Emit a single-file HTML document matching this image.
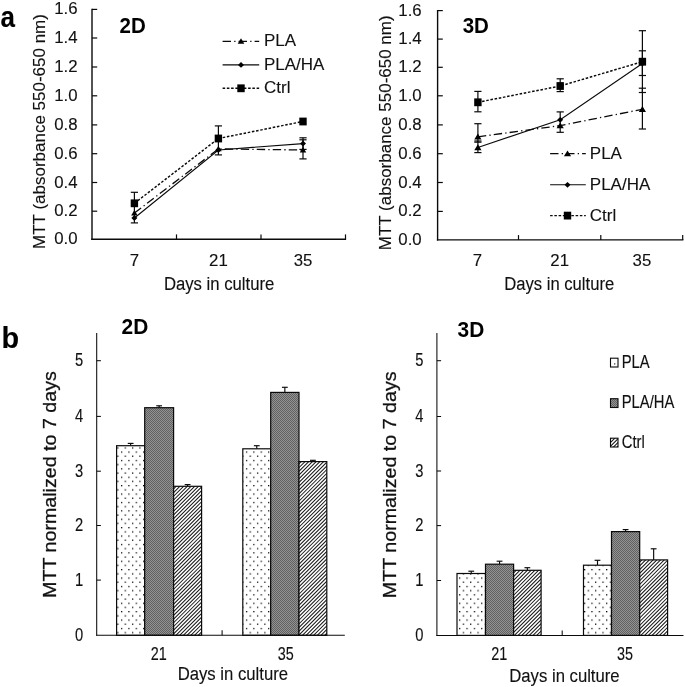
<!DOCTYPE html>
<html lang="en">
<head>
<meta charset="utf-8">
<title>MTT assay figure</title>
<style>
html,body{margin:0;padding:0;background:#fff;}
body{width:685px;height:687px;overflow:hidden;}
svg{display:block;}
</style>
</head>
<body>
<svg width="685" height="687" viewBox="0 0 685 687" font-family='"Liberation Sans", Arial, sans-serif'>
<defs>
<pattern id="dots" x="120.95" y="501.85" width="7.35" height="8.4" patternUnits="userSpaceOnUse">
<rect width="7.35" height="8.4" fill="#fff"/>
<rect x="0" y="0" width="1.25" height="1.25" fill="#000"/>
<rect x="3.68" y="4.2" width="1.25" height="1.25" fill="#000"/>
</pattern>
<pattern id="dense" width="2" height="2" patternUnits="userSpaceOnUse">
<rect width="2" height="2" fill="#939393"/>
<rect x="0" y="0" width="1" height="1" fill="#616161"/>
<rect x="1" y="1" width="1" height="1" fill="#616161"/>
</pattern>
<pattern id="diag" x="0.3" y="0" width="11" height="11" patternUnits="userSpaceOnUse">
<rect width="11" height="11" fill="#fff"/>
<path d="M-1 1.000 L1.000 -1 M-1 4.667 L4.667 -1 M-1 8.333 L8.333 -1 M-1 12.000 L12.000 -1 M-1 15.667 L15.667 -1 M-1 19.333 L19.333 -1 M-1 23.000 L23.000 -1" stroke="#000" stroke-width="1.0" fill="none"/>
</pattern>
</defs>
<rect width="685" height="687" fill="#fff"/>
<text transform="translate(0.60,26.55) scale(1.0,1.1)" font-size="26" text-anchor="start" font-weight="bold" fill="#000" stroke="#000" stroke-width="0.1">a</text>
<text transform="translate(1.50,348.30) scale(1.0,1.04)" font-size="28.8" text-anchor="start" font-weight="bold" fill="#000" stroke="#000" stroke-width="0.1">b</text>
<line x1="92.00" y1="8.80" x2="92.00" y2="239.90" stroke="#0a0a0a" stroke-width="1.4" />
<line x1="91.30" y1="239.20" x2="346.10" y2="239.20" stroke="#0a0a0a" stroke-width="1.4" />
<text transform="translate(77.60,244.20) scale(1.0,1.03)" font-size="16.8" text-anchor="end" font-weight="normal" fill="#111" stroke="#111" stroke-width="0.12">0.0</text>
<line x1="92.00" y1="211.20" x2="97.20" y2="211.20" stroke="#0a0a0a" stroke-width="1.2" />
<text transform="translate(77.60,216.20) scale(1.0,1.03)" font-size="16.8" text-anchor="end" font-weight="normal" fill="#111" stroke="#111" stroke-width="0.12">0.2</text>
<line x1="92.00" y1="182.50" x2="97.20" y2="182.50" stroke="#0a0a0a" stroke-width="1.2" />
<text transform="translate(77.60,187.50) scale(1.0,1.03)" font-size="16.8" text-anchor="end" font-weight="normal" fill="#111" stroke="#111" stroke-width="0.12">0.4</text>
<line x1="92.00" y1="153.70" x2="97.20" y2="153.70" stroke="#0a0a0a" stroke-width="1.2" />
<text transform="translate(77.60,158.70) scale(1.0,1.03)" font-size="16.8" text-anchor="end" font-weight="normal" fill="#111" stroke="#111" stroke-width="0.12">0.6</text>
<line x1="92.00" y1="124.90" x2="97.20" y2="124.90" stroke="#0a0a0a" stroke-width="1.2" />
<text transform="translate(77.60,129.90) scale(1.0,1.03)" font-size="16.8" text-anchor="end" font-weight="normal" fill="#111" stroke="#111" stroke-width="0.12">0.8</text>
<line x1="92.00" y1="95.80" x2="97.20" y2="95.80" stroke="#0a0a0a" stroke-width="1.2" />
<text transform="translate(77.60,100.80) scale(1.0,1.03)" font-size="16.8" text-anchor="end" font-weight="normal" fill="#111" stroke="#111" stroke-width="0.12">1.0</text>
<line x1="92.00" y1="67.00" x2="97.20" y2="67.00" stroke="#0a0a0a" stroke-width="1.2" />
<text transform="translate(77.60,72.00) scale(1.0,1.03)" font-size="16.8" text-anchor="end" font-weight="normal" fill="#111" stroke="#111" stroke-width="0.12">1.2</text>
<line x1="92.00" y1="38.00" x2="97.20" y2="38.00" stroke="#0a0a0a" stroke-width="1.2" />
<text transform="translate(77.60,43.00) scale(1.0,1.03)" font-size="16.8" text-anchor="end" font-weight="normal" fill="#111" stroke="#111" stroke-width="0.12">1.4</text>
<line x1="92.00" y1="9.40" x2="97.20" y2="9.40" stroke="#0a0a0a" stroke-width="1.2" />
<text transform="translate(77.60,14.40) scale(1.0,1.03)" font-size="16.8" text-anchor="end" font-weight="normal" fill="#111" stroke="#111" stroke-width="0.12">1.6</text>
<line x1="176.50" y1="239.20" x2="176.50" y2="234.40" stroke="#0a0a0a" stroke-width="1.2" />
<line x1="261.00" y1="239.20" x2="261.00" y2="234.40" stroke="#0a0a0a" stroke-width="1.2" />
<line x1="345.50" y1="239.20" x2="345.50" y2="234.40" stroke="#0a0a0a" stroke-width="1.2" />
<text transform="translate(134.40,265.50) scale(1.0,1.03)" font-size="16.8" text-anchor="middle" font-weight="normal" fill="#111" stroke="#111" stroke-width="0.12">7</text>
<text transform="translate(218.40,265.50) scale(1.0,1.03)" font-size="16.8" text-anchor="middle" font-weight="normal" fill="#111" stroke="#111" stroke-width="0.12">21</text>
<text transform="translate(303.00,265.50) scale(1.0,1.03)" font-size="16.8" text-anchor="middle" font-weight="normal" fill="#111" stroke="#111" stroke-width="0.12">35</text>
<text transform="translate(163.90,289.70) scale(1.013,1.095)" font-size="16.5" text-anchor="start" font-weight="normal" fill="#111" stroke="#111" stroke-width="0.12">Days in culture</text>
<text transform="translate(45.00,131.50) rotate(-90) scale(1.0,0.99)" font-size="17" text-anchor="middle" fill="#111" stroke="#111" stroke-width="0.12">MTT (absorbance 550-650 nm)</text>
<text transform="translate(119.50,32.60) scale(1.0,1.08)" font-size="20.5" text-anchor="start" font-weight="bold" fill="#000" stroke="#000" stroke-width="0">2D</text>
<line x1="134.40" y1="192.30" x2="134.40" y2="222.90" stroke="#0a0a0a" stroke-width="1.2" />
<line x1="130.80" y1="192.30" x2="138.00" y2="192.30" stroke="#0a0a0a" stroke-width="1.2" />
<line x1="130.80" y1="222.90" x2="138.00" y2="222.90" stroke="#0a0a0a" stroke-width="1.2" />
<line x1="218.40" y1="125.90" x2="218.40" y2="154.90" stroke="#0a0a0a" stroke-width="1.2" />
<line x1="214.80" y1="125.90" x2="222.00" y2="125.90" stroke="#0a0a0a" stroke-width="1.2" />
<line x1="214.80" y1="154.90" x2="222.00" y2="154.90" stroke="#0a0a0a" stroke-width="1.2" />
<line x1="303.00" y1="137.80" x2="303.00" y2="149.40" stroke="#0a0a0a" stroke-width="1.2" />
<line x1="299.40" y1="137.80" x2="306.60" y2="137.80" stroke="#0a0a0a" stroke-width="1.2" />
<line x1="299.40" y1="149.40" x2="306.60" y2="149.40" stroke="#0a0a0a" stroke-width="1.2" />
<line x1="303.00" y1="139.80" x2="303.00" y2="158.90" stroke="#0a0a0a" stroke-width="1.2" />
<line x1="299.40" y1="139.80" x2="306.60" y2="139.80" stroke="#0a0a0a" stroke-width="1.2" />
<line x1="299.40" y1="158.90" x2="306.60" y2="158.90" stroke="#0a0a0a" stroke-width="1.2" />
<polyline points="134.40,213.00 218.40,148.90 303.00,150.00" fill="none" stroke="#0a0a0a" stroke-width="1.3" stroke-dasharray="8.4 3.2 1.3 3.1"/>
<polyline points="134.40,218.00 218.40,150.00 303.00,143.60" fill="none" stroke="#0a0a0a" stroke-width="1.1" />
<polyline points="134.40,203.30 218.40,138.50 303.00,121.50" fill="none" stroke="#0a0a0a" stroke-width="1.45" stroke-dasharray="2.55 1.7"/>
<path d="M134.40 210.12 L137.64 215.43 L131.16 215.43 Z" fill="#000"/>
<path d="M218.40 146.02 L221.64 151.33 L215.16 151.33 Z" fill="#000"/>
<path d="M303.00 147.12 L306.24 152.43 L299.76 152.43 Z" fill="#000"/>
<path d="M134.40 215.10 L137.40 218.00 L134.40 220.90 L131.40 218.00 Z" fill="#000"/>
<path d="M218.40 147.10 L221.40 150.00 L218.40 152.90 L215.40 150.00 Z" fill="#000"/>
<path d="M303.00 140.70 L306.00 143.60 L303.00 146.50 L300.00 143.60 Z" fill="#000"/>
<rect x="130.70" y="199.40" width="7.4" height="7.8" fill="#000"/>
<rect x="214.70" y="134.60" width="7.4" height="7.8" fill="#000"/>
<rect x="299.30" y="117.60" width="7.4" height="7.8" fill="#000"/>
<line x1="222.60" y1="41.30" x2="259.20" y2="41.30" stroke="#0a0a0a" stroke-width="1.3" stroke-dasharray="8.4 3.2 1.3 3.1"/>
<path d="M241.00 38.36 L244.31 43.78 L237.69 43.78 Z" fill="#000"/>
<text transform="translate(264.00,46.00) scale(1.0,1.01)" font-size="17" text-anchor="start" font-weight="normal" fill="#111" stroke="#111" stroke-width="0.12">PLA</text>
<line x1="222.60" y1="64.90" x2="259.20" y2="64.90" stroke="#0a0a0a" stroke-width="1.1" />
<path d="M241.00 62.00 L244.00 64.90 L241.00 67.80 L238.00 64.90 Z" fill="#000"/>
<text transform="translate(264.00,69.90) scale(1.0,1.01)" font-size="17" text-anchor="start" font-weight="normal" fill="#111" stroke="#111" stroke-width="0.12">PLA/HA</text>
<line x1="222.60" y1="88.30" x2="259.20" y2="88.30" stroke="#0a0a0a" stroke-width="1.45" stroke-dasharray="2.55 1.7"/>
<rect x="237.30" y="84.40" width="7.4" height="7.8" fill="#000"/>
<text transform="translate(264.00,93.30) scale(1.0,1.01)" font-size="17" text-anchor="start" font-weight="normal" fill="#111" stroke="#111" stroke-width="0.12">Ctrl</text>
<line x1="437.60" y1="10.00" x2="437.60" y2="240.60" stroke="#0a0a0a" stroke-width="1.4" />
<line x1="436.90" y1="239.90" x2="683.40" y2="239.90" stroke="#0a0a0a" stroke-width="1.4" />
<text transform="translate(421.70,244.90) scale(1.0,1.03)" font-size="16.8" text-anchor="end" font-weight="normal" fill="#111" stroke="#111" stroke-width="0.12">0.0</text>
<line x1="437.60" y1="211.40" x2="442.80" y2="211.40" stroke="#0a0a0a" stroke-width="1.2" />
<text transform="translate(421.70,216.40) scale(1.0,1.03)" font-size="16.8" text-anchor="end" font-weight="normal" fill="#111" stroke="#111" stroke-width="0.12">0.2</text>
<line x1="437.60" y1="182.50" x2="442.80" y2="182.50" stroke="#0a0a0a" stroke-width="1.2" />
<text transform="translate(421.70,187.50) scale(1.0,1.03)" font-size="16.8" text-anchor="end" font-weight="normal" fill="#111" stroke="#111" stroke-width="0.12">0.4</text>
<line x1="437.60" y1="153.70" x2="442.80" y2="153.70" stroke="#0a0a0a" stroke-width="1.2" />
<text transform="translate(421.70,158.70) scale(1.0,1.03)" font-size="16.8" text-anchor="end" font-weight="normal" fill="#111" stroke="#111" stroke-width="0.12">0.6</text>
<line x1="437.60" y1="124.90" x2="442.80" y2="124.90" stroke="#0a0a0a" stroke-width="1.2" />
<text transform="translate(421.70,129.90) scale(1.0,1.03)" font-size="16.8" text-anchor="end" font-weight="normal" fill="#111" stroke="#111" stroke-width="0.12">0.8</text>
<line x1="437.60" y1="95.80" x2="442.80" y2="95.80" stroke="#0a0a0a" stroke-width="1.2" />
<text transform="translate(421.70,100.80) scale(1.0,1.03)" font-size="16.8" text-anchor="end" font-weight="normal" fill="#111" stroke="#111" stroke-width="0.12">1.0</text>
<line x1="437.60" y1="67.30" x2="442.80" y2="67.30" stroke="#0a0a0a" stroke-width="1.2" />
<text transform="translate(421.70,72.30) scale(1.0,1.03)" font-size="16.8" text-anchor="end" font-weight="normal" fill="#111" stroke="#111" stroke-width="0.12">1.2</text>
<line x1="437.60" y1="39.10" x2="442.80" y2="39.10" stroke="#0a0a0a" stroke-width="1.2" />
<text transform="translate(421.70,44.10) scale(1.0,1.03)" font-size="16.8" text-anchor="end" font-weight="normal" fill="#111" stroke="#111" stroke-width="0.12">1.4</text>
<line x1="437.60" y1="10.60" x2="442.80" y2="10.60" stroke="#0a0a0a" stroke-width="1.2" />
<text transform="translate(421.70,15.60) scale(1.0,1.03)" font-size="16.8" text-anchor="end" font-weight="normal" fill="#111" stroke="#111" stroke-width="0.12">1.6</text>
<line x1="518.50" y1="239.90" x2="518.50" y2="235.10" stroke="#0a0a0a" stroke-width="1.2" />
<line x1="600.80" y1="239.90" x2="600.80" y2="235.10" stroke="#0a0a0a" stroke-width="1.2" />
<line x1="682.70" y1="239.90" x2="682.70" y2="235.10" stroke="#0a0a0a" stroke-width="1.2" />
<text transform="translate(477.40,265.50) scale(1.0,1.03)" font-size="16.8" text-anchor="middle" font-weight="normal" fill="#111" stroke="#111" stroke-width="0.12">7</text>
<text transform="translate(559.70,265.50) scale(1.0,1.03)" font-size="16.8" text-anchor="middle" font-weight="normal" fill="#111" stroke="#111" stroke-width="0.12">21</text>
<text transform="translate(641.90,265.50) scale(1.0,1.03)" font-size="16.8" text-anchor="middle" font-weight="normal" fill="#111" stroke="#111" stroke-width="0.12">35</text>
<text transform="translate(504.20,289.80) scale(1.008,1.095)" font-size="16.5" text-anchor="start" font-weight="normal" fill="#111" stroke="#111" stroke-width="0.12">Days in culture</text>
<text transform="translate(390.90,132.80) rotate(-90) scale(1.0,0.99)" font-size="17" text-anchor="middle" fill="#111" stroke="#111" stroke-width="0.12">MTT (absorbance 550-650 nm)</text>
<text transform="translate(462.70,32.60) scale(1.0,1.08)" font-size="20.5" text-anchor="start" font-weight="bold" fill="#000" stroke="#000" stroke-width="0">3D</text>
<line x1="477.90" y1="91.40" x2="477.90" y2="111.80" stroke="#0a0a0a" stroke-width="1.2" />
<line x1="474.30" y1="91.40" x2="481.50" y2="91.40" stroke="#0a0a0a" stroke-width="1.2" />
<line x1="474.30" y1="111.80" x2="481.50" y2="111.80" stroke="#0a0a0a" stroke-width="1.2" />
<line x1="477.90" y1="123.70" x2="477.90" y2="142.20" stroke="#0a0a0a" stroke-width="1.2" />
<line x1="474.30" y1="123.70" x2="481.50" y2="123.70" stroke="#0a0a0a" stroke-width="1.2" />
<line x1="474.30" y1="142.20" x2="481.50" y2="142.20" stroke="#0a0a0a" stroke-width="1.2" />
<line x1="477.90" y1="141.00" x2="477.90" y2="152.60" stroke="#0a0a0a" stroke-width="1.2" />
<line x1="474.30" y1="141.00" x2="481.50" y2="141.00" stroke="#0a0a0a" stroke-width="1.2" />
<line x1="474.30" y1="152.60" x2="481.50" y2="152.60" stroke="#0a0a0a" stroke-width="1.2" />
<line x1="560.20" y1="78.80" x2="560.20" y2="91.60" stroke="#0a0a0a" stroke-width="1.2" />
<line x1="556.60" y1="78.80" x2="563.80" y2="78.80" stroke="#0a0a0a" stroke-width="1.2" />
<line x1="556.60" y1="91.60" x2="563.80" y2="91.60" stroke="#0a0a0a" stroke-width="1.2" />
<line x1="560.20" y1="111.90" x2="560.20" y2="132.30" stroke="#0a0a0a" stroke-width="1.2" />
<line x1="556.60" y1="111.90" x2="563.80" y2="111.90" stroke="#0a0a0a" stroke-width="1.2" />
<line x1="556.60" y1="132.30" x2="563.80" y2="132.30" stroke="#0a0a0a" stroke-width="1.2" />
<line x1="642.40" y1="30.70" x2="642.40" y2="92.50" stroke="#0a0a0a" stroke-width="1.2" />
<line x1="638.80" y1="30.70" x2="646.00" y2="30.70" stroke="#0a0a0a" stroke-width="1.2" />
<line x1="638.80" y1="92.50" x2="646.00" y2="92.50" stroke="#0a0a0a" stroke-width="1.2" />
<line x1="642.40" y1="50.80" x2="642.40" y2="75.50" stroke="#0a0a0a" stroke-width="1.2" />
<line x1="638.80" y1="50.80" x2="646.00" y2="50.80" stroke="#0a0a0a" stroke-width="1.2" />
<line x1="638.80" y1="75.50" x2="646.00" y2="75.50" stroke="#0a0a0a" stroke-width="1.2" />
<line x1="642.40" y1="88.20" x2="642.40" y2="129.00" stroke="#0a0a0a" stroke-width="1.2" />
<line x1="638.80" y1="88.20" x2="646.00" y2="88.20" stroke="#0a0a0a" stroke-width="1.2" />
<line x1="638.80" y1="129.00" x2="646.00" y2="129.00" stroke="#0a0a0a" stroke-width="1.2" />
<polyline points="477.90,136.80 560.20,125.60 642.40,109.30" fill="none" stroke="#0a0a0a" stroke-width="1.3" stroke-dasharray="8.4 3.2 1.3 3.1"/>
<polyline points="477.90,147.50 560.20,119.80 642.40,63.50" fill="none" stroke="#0a0a0a" stroke-width="1.1" />
<polyline points="477.90,102.30 560.20,86.00 642.40,61.70" fill="none" stroke="#0a0a0a" stroke-width="1.45" stroke-dasharray="2.55 1.7"/>
<path d="M477.90 133.60 L481.50 139.50 L474.30 139.50 Z" fill="#000"/>
<path d="M560.20 122.40 L563.80 128.30 L556.60 128.30 Z" fill="#000"/>
<path d="M642.40 106.10 L646.00 112.00 L638.80 112.00 Z" fill="#000"/>
<path d="M477.90 144.30 L481.50 150.20 L474.30 150.20 Z" fill="#000"/>
<path d="M560.20 116.90 L563.20 119.80 L560.20 122.70 L557.20 119.80 Z" fill="#000"/>
<path d="M642.40 60.60 L645.40 63.50 L642.40 66.40 L639.40 63.50 Z" fill="#000"/>
<rect x="474.20" y="98.40" width="7.4" height="7.8" fill="#000"/>
<rect x="556.50" y="82.10" width="7.4" height="7.8" fill="#000"/>
<rect x="638.70" y="57.80" width="7.4" height="7.8" fill="#000"/>
<line x1="550.10" y1="153.60" x2="585.80" y2="153.60" stroke="#0a0a0a" stroke-width="1.3" stroke-dasharray="8.4 3.2 1.3 3.1"/>
<path d="M567.50 150.40 L571.10 156.30 L563.90 156.30 Z" fill="#000"/>
<text transform="translate(589.80,158.70) scale(1.0,1.01)" font-size="17" text-anchor="start" font-weight="normal" fill="#111" stroke="#111" stroke-width="0.12">PLA</text>
<line x1="550.10" y1="184.80" x2="585.80" y2="184.80" stroke="#0a0a0a" stroke-width="1.1" />
<path d="M567.50 181.90 L570.50 184.80 L567.50 187.70 L564.50 184.80 Z" fill="#000"/>
<text transform="translate(589.80,189.70) scale(1.0,1.01)" font-size="17" text-anchor="start" font-weight="normal" fill="#111" stroke="#111" stroke-width="0.12">PLA/HA</text>
<line x1="550.10" y1="215.60" x2="585.80" y2="215.60" stroke="#0a0a0a" stroke-width="1.45" stroke-dasharray="2.55 1.7"/>
<rect x="563.80" y="211.70" width="7.4" height="7.8" fill="#000"/>
<text transform="translate(589.80,220.70) scale(1.0,1.01)" font-size="17" text-anchor="start" font-weight="normal" fill="#111" stroke="#111" stroke-width="0.12">Ctrl</text>
<line x1="130.65" y1="443.40" x2="130.65" y2="445.70" stroke="#0a0a0a" stroke-width="1.15" />
<line x1="127.75" y1="443.40" x2="133.55" y2="443.40" stroke="#0a0a0a" stroke-width="1.15" />
<rect x="116.60" y="445.70" width="28.10" height="189.60" fill="url(#dots)" stroke="#0a0a0a" stroke-width="1.2"/>
<line x1="159.15" y1="405.80" x2="159.15" y2="407.70" stroke="#0a0a0a" stroke-width="1.15" />
<line x1="156.25" y1="405.80" x2="162.05" y2="405.80" stroke="#0a0a0a" stroke-width="1.15" />
<rect x="144.70" y="407.70" width="28.90" height="227.60" fill="url(#dense)" stroke="#0a0a0a" stroke-width="1.2"/>
<line x1="187.60" y1="484.60" x2="187.60" y2="486.30" stroke="#0a0a0a" stroke-width="1.15" />
<line x1="184.70" y1="484.60" x2="190.50" y2="484.60" stroke="#0a0a0a" stroke-width="1.15" />
<clipPath id="hc1"><rect x="173.60" y="486.30" width="28.00" height="149.00"/></clipPath>
<rect x="173.60" y="486.30" width="28.00" height="149.00" fill="#fff"/>
<path clip-path="url(#hc1)" d="M172.60 482.42L202.60 452.42M172.60 486.14L202.60 456.14M172.60 489.86L202.60 459.86M172.60 493.58L202.60 463.58M172.60 497.30L202.60 467.30M172.60 501.02L202.60 471.02M172.60 504.74L202.60 474.74M172.60 508.46L202.60 478.46M172.60 512.18L202.60 482.18M172.60 515.90L202.60 485.90M172.60 519.62L202.60 489.62M172.60 523.34L202.60 493.34M172.60 527.06L202.60 497.06M172.60 530.78L202.60 500.78M172.60 534.50L202.60 504.50M172.60 538.22L202.60 508.22M172.60 541.94L202.60 511.94M172.60 545.66L202.60 515.66M172.60 549.38L202.60 519.38M172.60 553.10L202.60 523.10M172.60 556.82L202.60 526.82M172.60 560.54L202.60 530.54M172.60 564.26L202.60 534.26M172.60 567.98L202.60 537.98M172.60 571.70L202.60 541.70M172.60 575.42L202.60 545.42M172.60 579.14L202.60 549.14M172.60 582.86L202.60 552.86M172.60 586.58L202.60 556.58M172.60 590.30L202.60 560.30M172.60 594.02L202.60 564.02M172.60 597.74L202.60 567.74M172.60 601.46L202.60 571.46M172.60 605.18L202.60 575.18M172.60 608.90L202.60 578.90M172.60 612.62L202.60 582.62M172.60 616.34L202.60 586.34M172.60 620.06L202.60 590.06M172.60 623.78L202.60 593.78M172.60 627.50L202.60 597.50M172.60 631.22L202.60 601.22M172.60 634.94L202.60 604.94M172.60 638.66L202.60 608.66M172.60 642.38L202.60 612.38M172.60 646.10L202.60 616.10M172.60 649.82L202.60 619.82M172.60 653.54L202.60 623.54M172.60 657.26L202.60 627.26M172.60 660.98L202.60 630.98M172.60 664.70L202.60 634.70" stroke="#161616" stroke-width="1.02" fill="none"/>
<rect x="173.60" y="486.30" width="28.00" height="149.00" fill="none" stroke="#0a0a0a" stroke-width="1.2"/>
<line x1="256.75" y1="445.70" x2="256.75" y2="448.80" stroke="#0a0a0a" stroke-width="1.15" />
<line x1="253.85" y1="445.70" x2="259.65" y2="445.70" stroke="#0a0a0a" stroke-width="1.15" />
<rect x="242.80" y="448.80" width="27.90" height="186.50" fill="url(#dots)" stroke="#0a0a0a" stroke-width="1.2"/>
<line x1="284.85" y1="387.30" x2="284.85" y2="392.40" stroke="#0a0a0a" stroke-width="1.15" />
<line x1="281.95" y1="387.30" x2="287.75" y2="387.30" stroke="#0a0a0a" stroke-width="1.15" />
<rect x="270.70" y="392.40" width="28.30" height="242.90" fill="url(#dense)" stroke="#0a0a0a" stroke-width="1.2"/>
<line x1="312.90" y1="460.30" x2="312.90" y2="461.60" stroke="#0a0a0a" stroke-width="1.15" />
<line x1="310.00" y1="460.30" x2="315.80" y2="460.30" stroke="#0a0a0a" stroke-width="1.15" />
<clipPath id="hc2"><rect x="299.00" y="461.60" width="27.80" height="173.70"/></clipPath>
<rect x="299.00" y="461.60" width="27.80" height="173.70" fill="#fff"/>
<path clip-path="url(#hc2)" d="M298.00 457.46L327.80 427.66M298.00 461.18L327.80 431.38M298.00 464.90L327.80 435.10M298.00 468.62L327.80 438.82M298.00 472.34L327.80 442.54M298.00 476.06L327.80 446.26M298.00 479.78L327.80 449.98M298.00 483.50L327.80 453.70M298.00 487.22L327.80 457.42M298.00 490.94L327.80 461.14M298.00 494.66L327.80 464.86M298.00 498.38L327.80 468.58M298.00 502.10L327.80 472.30M298.00 505.82L327.80 476.02M298.00 509.54L327.80 479.74M298.00 513.26L327.80 483.46M298.00 516.98L327.80 487.18M298.00 520.70L327.80 490.90M298.00 524.42L327.80 494.62M298.00 528.14L327.80 498.34M298.00 531.86L327.80 502.06M298.00 535.58L327.80 505.78M298.00 539.30L327.80 509.50M298.00 543.02L327.80 513.22M298.00 546.74L327.80 516.94M298.00 550.46L327.80 520.66M298.00 554.18L327.80 524.38M298.00 557.90L327.80 528.10M298.00 561.62L327.80 531.82M298.00 565.34L327.80 535.54M298.00 569.06L327.80 539.26M298.00 572.78L327.80 542.98M298.00 576.50L327.80 546.70M298.00 580.22L327.80 550.42M298.00 583.94L327.80 554.14M298.00 587.66L327.80 557.86M298.00 591.38L327.80 561.58M298.00 595.10L327.80 565.30M298.00 598.82L327.80 569.02M298.00 602.54L327.80 572.74M298.00 606.26L327.80 576.46M298.00 609.98L327.80 580.18M298.00 613.70L327.80 583.90M298.00 617.42L327.80 587.62M298.00 621.14L327.80 591.34M298.00 624.86L327.80 595.06M298.00 628.58L327.80 598.78M298.00 632.30L327.80 602.50M298.00 636.02L327.80 606.22M298.00 639.74L327.80 609.94M298.00 643.46L327.80 613.66M298.00 647.18L327.80 617.38M298.00 650.90L327.80 621.10M298.00 654.62L327.80 624.82M298.00 658.34L327.80 628.54M298.00 662.06L327.80 632.26M298.00 665.78L327.80 635.98" stroke="#161616" stroke-width="1.02" fill="none"/>
<rect x="299.00" y="461.60" width="27.80" height="173.70" fill="none" stroke="#0a0a0a" stroke-width="1.2"/>
<line x1="96.70" y1="333.00" x2="96.70" y2="635.80" stroke="#0a0a0a" stroke-width="1.05" />
<line x1="96.20" y1="635.30" x2="344.80" y2="635.30" stroke="#0a0a0a" stroke-width="1.05" />
<text transform="translate(83.20,640.90) scale(0.92,1.1)" font-size="16" text-anchor="end" font-weight="normal" fill="#111" stroke="#111" stroke-width="0.12">0</text>
<line x1="96.70" y1="580.10" x2="100.90" y2="580.10" stroke="#0a0a0a" stroke-width="1.05" />
<text transform="translate(83.20,585.70) scale(0.92,1.1)" font-size="16" text-anchor="end" font-weight="normal" fill="#111" stroke="#111" stroke-width="0.12">1</text>
<line x1="96.70" y1="525.50" x2="100.90" y2="525.50" stroke="#0a0a0a" stroke-width="1.05" />
<text transform="translate(83.20,531.10) scale(0.92,1.1)" font-size="16" text-anchor="end" font-weight="normal" fill="#111" stroke="#111" stroke-width="0.12">2</text>
<line x1="96.70" y1="471.20" x2="100.90" y2="471.20" stroke="#0a0a0a" stroke-width="1.05" />
<text transform="translate(83.20,476.80) scale(0.92,1.1)" font-size="16" text-anchor="end" font-weight="normal" fill="#111" stroke="#111" stroke-width="0.12">3</text>
<line x1="96.70" y1="416.40" x2="100.90" y2="416.40" stroke="#0a0a0a" stroke-width="1.05" />
<text transform="translate(83.20,422.00) scale(0.92,1.1)" font-size="16" text-anchor="end" font-weight="normal" fill="#111" stroke="#111" stroke-width="0.12">4</text>
<line x1="96.70" y1="360.70" x2="100.90" y2="360.70" stroke="#0a0a0a" stroke-width="1.05" />
<text transform="translate(83.20,366.30) scale(0.92,1.1)" font-size="16" text-anchor="end" font-weight="normal" fill="#111" stroke="#111" stroke-width="0.12">5</text>
<line x1="222.10" y1="635.30" x2="222.10" y2="630.30" stroke="#0a0a0a" stroke-width="1.05" />
<text transform="translate(158.70,660.40) scale(0.9,1.1)" font-size="16" text-anchor="middle" font-weight="normal" fill="#111" stroke="#111" stroke-width="0.12">21</text>
<text transform="translate(285.80,660.40) scale(0.9,1.1)" font-size="16" text-anchor="middle" font-weight="normal" fill="#111" stroke="#111" stroke-width="0.12">35</text>
<text transform="translate(177.70,680.20) scale(1.012,1.095)" font-size="16.5" text-anchor="start" font-weight="normal" fill="#111" stroke="#111" stroke-width="0.12">Days in culture</text>
<text transform="translate(55.70,484.55) rotate(-90) scale(1.0,0.93)" font-size="19.65" text-anchor="middle" fill="#111" stroke="#111" stroke-width="0.3">MTT normalized to 7 days</text>
<text transform="translate(121.60,334.40) scale(1.02,1.08)" font-size="20.5" text-anchor="start" font-weight="bold" fill="#000" stroke="#000" stroke-width="0">2D</text>
<line x1="471.25" y1="571.20" x2="471.25" y2="573.50" stroke="#0a0a0a" stroke-width="1.15" />
<line x1="468.35" y1="571.20" x2="474.15" y2="571.20" stroke="#0a0a0a" stroke-width="1.15" />
<rect x="457.00" y="573.50" width="28.50" height="61.90" fill="url(#dots)" stroke="#0a0a0a" stroke-width="1.2"/>
<line x1="499.55" y1="561.20" x2="499.55" y2="564.20" stroke="#0a0a0a" stroke-width="1.15" />
<line x1="496.65" y1="561.20" x2="502.45" y2="561.20" stroke="#0a0a0a" stroke-width="1.15" />
<rect x="485.50" y="564.20" width="28.10" height="71.20" fill="url(#dense)" stroke="#0a0a0a" stroke-width="1.2"/>
<line x1="527.35" y1="567.70" x2="527.35" y2="570.30" stroke="#0a0a0a" stroke-width="1.15" />
<line x1="524.45" y1="567.70" x2="530.25" y2="567.70" stroke="#0a0a0a" stroke-width="1.15" />
<clipPath id="hc3"><rect x="513.60" y="570.30" width="27.50" height="65.10"/></clipPath>
<rect x="513.60" y="570.30" width="27.50" height="65.10" fill="#fff"/>
<path clip-path="url(#hc3)" d="M512.60 566.50L542.10 537.00M512.60 570.22L542.10 540.72M512.60 573.94L542.10 544.44M512.60 577.66L542.10 548.16M512.60 581.38L542.10 551.88M512.60 585.10L542.10 555.60M512.60 588.82L542.10 559.32M512.60 592.54L542.10 563.04M512.60 596.26L542.10 566.76M512.60 599.98L542.10 570.48M512.60 603.70L542.10 574.20M512.60 607.42L542.10 577.92M512.60 611.14L542.10 581.64M512.60 614.86L542.10 585.36M512.60 618.58L542.10 589.08M512.60 622.30L542.10 592.80M512.60 626.02L542.10 596.52M512.60 629.74L542.10 600.24M512.60 633.46L542.10 603.96M512.60 637.18L542.10 607.68M512.60 640.90L542.10 611.40M512.60 644.62L542.10 615.12M512.60 648.34L542.10 618.84M512.60 652.06L542.10 622.56M512.60 655.78L542.10 626.28M512.60 659.50L542.10 630.00M512.60 663.22L542.10 633.72M512.60 666.94L542.10 637.44" stroke="#161616" stroke-width="1.02" fill="none"/>
<rect x="513.60" y="570.30" width="27.50" height="65.10" fill="none" stroke="#0a0a0a" stroke-width="1.2"/>
<line x1="597.50" y1="560.30" x2="597.50" y2="565.20" stroke="#0a0a0a" stroke-width="1.15" />
<line x1="594.60" y1="560.30" x2="600.40" y2="560.30" stroke="#0a0a0a" stroke-width="1.15" />
<rect x="583.50" y="565.20" width="28.00" height="70.20" fill="url(#dots)" stroke="#0a0a0a" stroke-width="1.2"/>
<line x1="625.60" y1="529.60" x2="625.60" y2="531.60" stroke="#0a0a0a" stroke-width="1.15" />
<line x1="622.70" y1="529.60" x2="628.50" y2="529.60" stroke="#0a0a0a" stroke-width="1.15" />
<rect x="611.50" y="531.60" width="28.20" height="103.80" fill="url(#dense)" stroke="#0a0a0a" stroke-width="1.2"/>
<line x1="653.65" y1="548.80" x2="653.65" y2="559.90" stroke="#0a0a0a" stroke-width="1.15" />
<line x1="650.75" y1="548.80" x2="656.55" y2="548.80" stroke="#0a0a0a" stroke-width="1.15" />
<clipPath id="hc4"><rect x="639.70" y="559.90" width="27.90" height="75.50"/></clipPath>
<rect x="639.70" y="559.90" width="27.90" height="75.50" fill="#fff"/>
<path clip-path="url(#hc4)" d="M638.70 555.72L668.60 525.82M638.70 559.44L668.60 529.54M638.70 563.16L668.60 533.26M638.70 566.88L668.60 536.98M638.70 570.60L668.60 540.70M638.70 574.32L668.60 544.42M638.70 578.04L668.60 548.14M638.70 581.76L668.60 551.86M638.70 585.48L668.60 555.58M638.70 589.20L668.60 559.30M638.70 592.92L668.60 563.02M638.70 596.64L668.60 566.74M638.70 600.36L668.60 570.46M638.70 604.08L668.60 574.18M638.70 607.80L668.60 577.90M638.70 611.52L668.60 581.62M638.70 615.24L668.60 585.34M638.70 618.96L668.60 589.06M638.70 622.68L668.60 592.78M638.70 626.40L668.60 596.50M638.70 630.12L668.60 600.22M638.70 633.84L668.60 603.94M638.70 637.56L668.60 607.66M638.70 641.28L668.60 611.38M638.70 645.00L668.60 615.10M638.70 648.72L668.60 618.82M638.70 652.44L668.60 622.54M638.70 656.16L668.60 626.26M638.70 659.88L668.60 629.98M638.70 663.60L668.60 633.70M638.70 667.32L668.60 637.42" stroke="#161616" stroke-width="1.02" fill="none"/>
<rect x="639.70" y="559.90" width="27.90" height="75.50" fill="none" stroke="#0a0a0a" stroke-width="1.2"/>
<line x1="436.90" y1="333.00" x2="436.90" y2="635.90" stroke="#0a0a0a" stroke-width="1.05" />
<line x1="436.40" y1="635.40" x2="683.50" y2="635.40" stroke="#0a0a0a" stroke-width="1.05" />
<text transform="translate(423.40,641.00) scale(0.92,1.1)" font-size="16" text-anchor="end" font-weight="normal" fill="#111" stroke="#111" stroke-width="0.12">0</text>
<line x1="436.90" y1="580.50" x2="441.10" y2="580.50" stroke="#0a0a0a" stroke-width="1.05" />
<text transform="translate(423.40,586.10) scale(0.92,1.1)" font-size="16" text-anchor="end" font-weight="normal" fill="#111" stroke="#111" stroke-width="0.12">1</text>
<line x1="436.90" y1="525.60" x2="441.10" y2="525.60" stroke="#0a0a0a" stroke-width="1.05" />
<text transform="translate(423.40,531.20) scale(0.92,1.1)" font-size="16" text-anchor="end" font-weight="normal" fill="#111" stroke="#111" stroke-width="0.12">2</text>
<line x1="436.90" y1="471.00" x2="441.10" y2="471.00" stroke="#0a0a0a" stroke-width="1.05" />
<text transform="translate(423.40,476.60) scale(0.92,1.1)" font-size="16" text-anchor="end" font-weight="normal" fill="#111" stroke="#111" stroke-width="0.12">3</text>
<line x1="436.90" y1="416.50" x2="441.10" y2="416.50" stroke="#0a0a0a" stroke-width="1.05" />
<text transform="translate(423.40,422.10) scale(0.92,1.1)" font-size="16" text-anchor="end" font-weight="normal" fill="#111" stroke="#111" stroke-width="0.12">4</text>
<line x1="436.90" y1="360.70" x2="441.10" y2="360.70" stroke="#0a0a0a" stroke-width="1.05" />
<text transform="translate(423.40,366.30) scale(0.92,1.1)" font-size="16" text-anchor="end" font-weight="normal" fill="#111" stroke="#111" stroke-width="0.12">5</text>
<line x1="562.20" y1="635.40" x2="562.20" y2="630.40" stroke="#0a0a0a" stroke-width="1.05" />
<text transform="translate(499.20,660.20) scale(0.9,1.1)" font-size="16" text-anchor="middle" font-weight="normal" fill="#111" stroke="#111" stroke-width="0.12">21</text>
<text transform="translate(625.00,660.20) scale(0.9,1.1)" font-size="16" text-anchor="middle" font-weight="normal" fill="#111" stroke="#111" stroke-width="0.12">35</text>
<text transform="translate(509.30,682.30) scale(1.012,1.095)" font-size="16.5" text-anchor="start" font-weight="normal" fill="#111" stroke="#111" stroke-width="0.12">Days in culture</text>
<text transform="translate(396.20,484.80) rotate(-90) scale(1.0,0.93)" font-size="19.65" text-anchor="middle" fill="#111" stroke="#111" stroke-width="0.3">MTT normalized to 7 days</text>
<text transform="translate(457.60,336.70) scale(1.02,1.08)" font-size="20.5" text-anchor="start" font-weight="bold" fill="#000" stroke="#000" stroke-width="0">3D</text>
<rect x="610.5" y="358.20" width="7.5" height="8.8" fill="#fff" stroke="#0a0a0a" stroke-width="1.1"/>
<rect x="614.1" y="363.30" width="1.2" height="1.2" fill="#222"/>
<text transform="translate(621.70,368.00) scale(0.925,1.1)" font-size="16" text-anchor="start" font-weight="normal" fill="#111" stroke="#111" stroke-width="0.12">PLA</text>
<rect x="610.5" y="398.70" width="7.5" height="8.8" fill="url(#dense)" stroke="#0a0a0a" stroke-width="1.1"/>
<text transform="translate(621.70,407.90) scale(0.925,1.1)" font-size="16" text-anchor="start" font-weight="normal" fill="#111" stroke="#111" stroke-width="0.12">PLA/HA</text>
<clipPath id="hc5"><rect x="610.50" y="438.20" width="7.50" height="8.80"/></clipPath>
<rect x="610.50" y="438.20" width="7.50" height="8.80" fill="#fff"/>
<path clip-path="url(#hc5)" d="M609.50 432.40L619.00 422.90M609.50 436.12L619.00 426.62M609.50 439.84L619.00 430.34M609.50 443.56L619.00 434.06M609.50 447.28L619.00 437.78M609.50 451.00L619.00 441.50M609.50 454.72L619.00 445.22M609.50 458.44L619.00 448.94" stroke="#161616" stroke-width="1.02" fill="none"/>
<rect x="610.5" y="438.20" width="7.5" height="8.8" fill="none" stroke="#0a0a0a" stroke-width="1.1"/>
<text transform="translate(621.70,447.60) scale(0.925,1.1)" font-size="16" text-anchor="start" font-weight="normal" fill="#111" stroke="#111" stroke-width="0.12">Ctrl</text>
</svg>
</body>
</html>
